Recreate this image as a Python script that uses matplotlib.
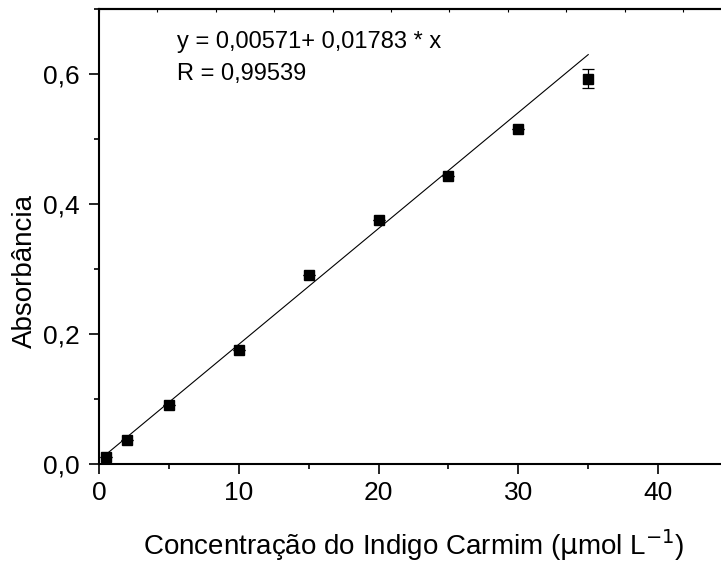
import numpy as np
import matplotlib
matplotlib.use('Agg')
import matplotlib.pyplot as plt
from matplotlib.ticker import MultipleLocator, FuncFormatter

plt.rcParams['font.family'] = ['Liberation Sans', 'DejaVu Sans']

# dados
conc = [0.5, 2, 5, 10, 15, 20, 25, 30, 35]
absorb = [0.010, 0.037, 0.090, 0.176, 0.290, 0.375, 0.443, 0.515, 0.593]
erro = [0, 0, 0, 0, 0, 0, 0, 0, 0.015]
a, b = 0.00571, 0.01783  # y = a + b*x
fit_x = [0.5, 35]

fig = plt.figure(figsize=(7.21, 5.67), dpi=100)
ax = fig.add_axes([0.1373, 0.1817, 0.8724, 0.8025])

xf = np.array(fit_x)
ax.plot(xf, a + b * xf, color='black', lw=0.8)
ax.errorbar(conc, absorb, yerr=erro, fmt='s', color='black', ms=7.8,
            ecolor='black', elinewidth=0.9, capsize=4, capthick=0.9)

ax.set_xlim(0, 45)
ax.set_ylim(0, 0.7)
ax.xaxis.set_major_locator(MultipleLocator(10))
ax.xaxis.set_minor_locator(MultipleLocator(5))
ax.yaxis.set_major_locator(MultipleLocator(0.2))
ax.yaxis.set_minor_locator(MultipleLocator(0.1))
ax.yaxis.set_major_formatter(FuncFormatter(lambda v, p: ('%.1f' % v).replace('.', ',')))
ax.tick_params(which='major', direction='out', length=7, width=1.2, labelsize=19, pad=5)
ax.tick_params(axis='y', which='major', pad=7)
ax.tick_params(which='minor', direction='out', length=3.5, width=1.2)
ax.tick_params(top=False, right=False, which='both')
for s in ax.spines.values():
    s.set_linewidth(1.5)

# ticks pequenos no topo
sec = ax.secondary_xaxis('top', functions=(lambda x: x * 14 / 58.5, lambda x: x * 58.5 / 14))
sec.xaxis.set_major_locator(MultipleLocator(1))
sec.tick_params(direction='in', length=2, width=0.8, labeltop=False)
sec.spines['top'].set_linewidth(1.5)

ax.set_xlabel(r'Concentração do Indigo Carmim ($\mathrm{\mu}$mol L$^{-1}$)', fontsize=20, labelpad=16)
ax.set_ylabel('Absorbância', fontsize=20, va='center')
ax.yaxis.set_label_coords(-0.118, 0.424)

ax.text(5.6, 0.649, 'y = 0,00571+ 0,01783 * x', fontsize=17, ha='left', va='center')
ax.text(5.6, 0.600, 'R = 0,99539', fontsize=17, ha='left', va='center')

fig.savefig('out.png', dpi=100)
